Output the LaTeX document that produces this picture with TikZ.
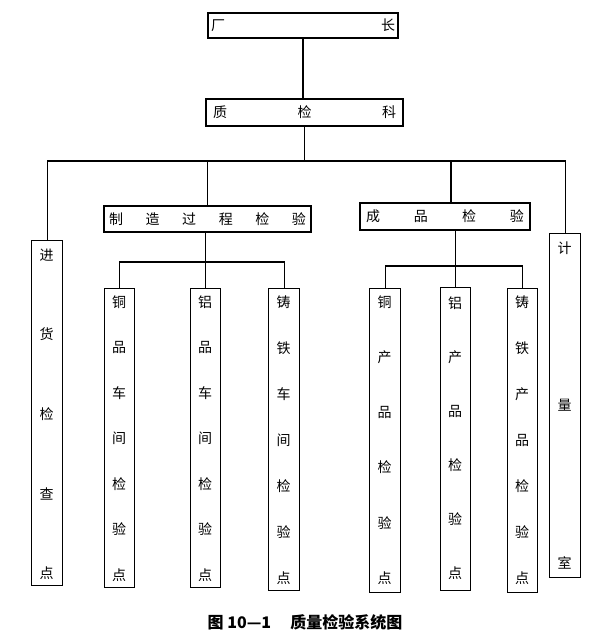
\documentclass[tikz,border=0pt]{standalone}
\usepackage{fontspec}
\setmainfont{Noto Sans CJK SC}
\tikzset{
  boxst/.style={draw, line width=1.4pt, inner sep=0pt, font=\fontsize{14}{14}\selectfont},
  txt/.style={inner sep=0pt, font=\fontsize{14}{14}\selectfont},
  conn/.style={line width=1.4pt}
}
\newcommand\vcol[9]{%
  \node[boxst, anchor=north west, minimum width={(#3-#2)*1pt}, minimum height={(#5-#4)*1pt}] (#1) at (#2,#4) {};
  \foreach \ch [count=\i] in {#9} {
    \pgfmathsetmacro\yy{#6+(\i-1)*(#7-#6)/(#8-1)}
    \node[txt] (#1-\i) at ({(#2+#3)/2},\yy) {\ch};
  }
}
\begin{document}
\begin{tikzpicture}[x=1pt,y=-1pt]
\fill[white] (0,0) rectangle (600,640);
\useasboundingbox (0,0) rectangle (600,640);
% top boxes
\node[boxst, minimum width=190pt, minimum height=25pt] (cz) at (303,25.5) {\hbox to 184pt{厂\hfill 长}};
\node[boxst, minimum width=197pt, minimum height=27pt] (zjk) at (304.5,112.5) {\hbox to 183pt{质\hfill 检\hfill 科}};
\node[boxst, minimum width=207pt, minimum height=26pt] (zz) at (207.5,219) {\hbox to 197pt{制\hfill 造\hfill 过\hfill 程\hfill 检\hfill 验}};
\node[boxst, minimum width=170pt, minimum height=27pt] (cp) at (445,216.5) {\hbox to 158pt{成\hfill 品\hfill 检\hfill 验}};
% vertical boxes
\vcol{jh}{31}{62}{240}{585}{255}{573}{5}{进,货,检,查,点}
\vcol{a1}{104}{134}{288}{587}{302}{575}{7}{铜,品,车,间,检,验,点}
\vcol{a2}{190}{220}{288}{587}{302}{575}{7}{铝,品,车,间,检,验,点}
\vcol{a3}{268}{299}{288}{590}{302}{578}{7}{铸,铁,车,间,检,验,点}
\vcol{b1}{369}{400}{288}{592}{302}{578}{6}{铜,产,品,检,验,点}
\vcol{b2}{440}{470}{287}{590}{303}{573}{6}{铝,产,品,检,验,点}
\vcol{b3}{507}{537}{288}{592}{302}{578}{7}{铸,铁,产,品,检,验,点}
\vcol{jl}{549}{580}{233}{577}{248}{563}{3}{计,量,室}
% bus coordinates
\coordinate (bus) at (0,161);
\coordinate (sb1) at (0,262);
\coordinate (sb2) at (0,266);
% connectors
\draw[conn] (cz.south) -- (cz.south |- zjk.north);
\draw[conn] (zjk.south) -- (zjk.south |- bus);
\draw[conn] (jh.north) -- (jh.north |- bus) -- (jl.north |- bus) -- (jl.north);
\draw[conn] (zz.north) -- (zz.north |- bus);
\draw[conn] ([xshift=6pt]cp.north) -- ([xshift=6pt]cp.north |- bus);
\draw[conn] (a1.north) -- (a1.north |- sb1) -- (a3.north |- sb1) -- (a3.north);
\draw[conn] (a2.north) -- (a2.north |- zz.south);
\draw[conn] (b1.north) -- (b1.north |- sb2) -- (b3.north |- sb2) -- (b3.north);
\draw[conn] (b2.north) -- (b2.north |- cp.south);
% caption
\node[font=\bfseries\fontsize{16}{16}\selectfont, inner sep=0pt] (cap) at (305,622) {图 10—1\hspace{1.2em}质量检验系统图};
\end{tikzpicture}
\end{document}
